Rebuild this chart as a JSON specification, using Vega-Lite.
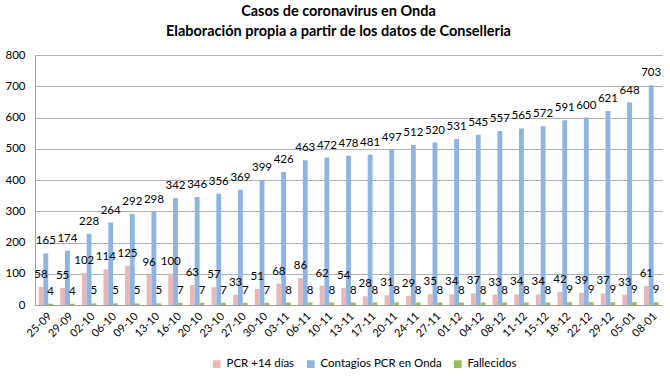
{
  "$schema": "https://vega.github.io/schema/vega-lite/v6.json",
  "width": 627,
  "height": 250,
  "autosize": {"type": "none"},
  "padding": {"left": 35, "top": 55, "right": 8, "bottom": 71},
  "background": "white",
  "config": {"font": "Lato", "view": {"stroke": null}},
  "title": {
    "text": ["Casos de coronavirus en Onda", "Elaboración propia a partir de los datos de Conselleria"],
    "fontSize": 14.5,
    "fontWeight": "bold",
    "lineHeight": 20,
    "anchor": "middle",
    "offset": 10,
    "dx": -10,
    "color": "#000000"
  },
  "datasets": {
    "casos": [
      {"fecha": "25-09", "pcr14": 58, "contagios": 165, "fallecidos": 4},
      {"fecha": "29-09", "pcr14": 55, "contagios": 174, "fallecidos": 4},
      {"fecha": "02-10", "pcr14": 102, "contagios": 228, "fallecidos": 5},
      {"fecha": "06-10", "pcr14": 114, "contagios": 264, "fallecidos": 5},
      {"fecha": "09-10", "pcr14": 125, "contagios": 292, "fallecidos": 5},
      {"fecha": "13-10", "pcr14": 96, "contagios": 298, "fallecidos": 5},
      {"fecha": "16-10", "pcr14": 100, "contagios": 342, "fallecidos": 7},
      {"fecha": "20-10", "pcr14": 63, "contagios": 346, "fallecidos": 7},
      {"fecha": "23-10", "pcr14": 57, "contagios": 356, "fallecidos": 7},
      {"fecha": "27-10", "pcr14": 33, "contagios": 369, "fallecidos": 7},
      {"fecha": "30-10", "pcr14": 51, "contagios": 399, "fallecidos": 7},
      {"fecha": "03-11", "pcr14": 68, "contagios": 426, "fallecidos": 8},
      {"fecha": "06-11", "pcr14": 86, "contagios": 463, "fallecidos": 8},
      {"fecha": "10-11", "pcr14": 62, "contagios": 472, "fallecidos": 8},
      {"fecha": "13-11", "pcr14": 54, "contagios": 478, "fallecidos": 8},
      {"fecha": "17-11", "pcr14": 28, "contagios": 481, "fallecidos": 8},
      {"fecha": "20-11", "pcr14": 31, "contagios": 497, "fallecidos": 8},
      {"fecha": "24-11", "pcr14": 29, "contagios": 512, "fallecidos": 8},
      {"fecha": "27-11", "pcr14": 35, "contagios": 520, "fallecidos": 8},
      {"fecha": "01-12", "pcr14": 34, "contagios": 531, "fallecidos": 8},
      {"fecha": "04-12", "pcr14": 37, "contagios": 545, "fallecidos": 8},
      {"fecha": "08-12", "pcr14": 33, "contagios": 557, "fallecidos": 8},
      {"fecha": "11-12", "pcr14": 34, "contagios": 565, "fallecidos": 8},
      {"fecha": "15-12", "pcr14": 34, "contagios": 572, "fallecidos": 8},
      {"fecha": "18-12", "pcr14": 42, "contagios": 591, "fallecidos": 9},
      {"fecha": "22-12", "pcr14": 39, "contagios": 600, "fallecidos": 9},
      {"fecha": "29-12", "pcr14": 37, "contagios": 621, "fallecidos": 9},
      {"fecha": "05-01", "pcr14": 33, "contagios": 648, "fallecidos": 9},
      {"fecha": "08-01", "pcr14": 61, "contagios": 703, "fallecidos": 9}
    ]
  },
  "data": {"name": "casos"},
  "transform": [
    {"fold": ["pcr14", "contagios", "fallecidos"], "as": ["clave", "valor"]},
    {"lookup": "clave", "from": {"data": {"values": [
      {"clave": "pcr14", "serie": "PCR +14 días"},
      {"clave": "contagios", "serie": "Contagios PCR en Onda"},
      {"clave": "fallecidos", "serie": "Fallecidos"}
    ]}, "key": "clave", "fields": ["serie"]}}
  ],
  "encoding": {
    "x": {
      "field": "fecha",
      "type": "nominal",
      "sort": null,
      "title": null,
      "scale": {"paddingInner": 0.33, "paddingOuter": 0.165},
      "axis": {
        "labelAngle": -45,
        "labelFontSize": 11,
        "labelColor": "#000000",
        "labelPadding": 5,
        "ticks": false,
        "domainColor": "#a0a0a0",
        "grid": false
      }
    },
    "xOffset": {
      "field": "serie",
      "type": "nominal",
      "sort": ["PCR +14 días", "Contagios PCR en Onda", "Fallecidos"],
      "scale": {"paddingInner": 0, "paddingOuter": 0}
    },
    "y": {
      "field": "valor",
      "type": "quantitative",
      "title": null,
      "scale": {"domain": [0, 800], "nice": false},
      "axis": {
        "values": [0, 100, 200, 300, 400, 500, 600, 700, 800],
        "labelFontSize": 11.5,
        "labelColor": "#000000",
        "labelPadding": 10,
        "ticks": false,
        "domainColor": "#a0a0a0",
        "gridColor": "#b0b0b0",
        "gridWidth": 1
      }
    }
  },
  "layer": [
    {
      "mark": {"type": "bar"},
      "encoding": {
        "color": {
          "field": "serie",
          "type": "nominal",
          "sort": ["PCR +14 días", "Contagios PCR en Onda", "Fallecidos"],
          "scale": {
            "domain": ["PCR +14 días", "Contagios PCR en Onda", "Fallecidos"],
            "range": ["#E6B9B8", "#8DB4E2", "#9BBB59"]
          },
          "legend": {
            "orient": "none",
            "legendX": 176,
            "legendY": 303,
            "direction": "horizontal",
            "title": null,
            "symbolType": "square",
            "symbolSize": 60,
            "symbolStrokeWidth": 0,
            "labelFontSize": 11.5,
            "labelColor": "#000000",
            "labelOffset": 4,
            "columnPadding": 10
          }
        }
      }
    },
    {
      "mark": {"type": "text", "fontSize": 11.5, "baseline": "middle", "dy": -12, "color": "#000000"},
      "encoding": {
        "text": {"field": "valor", "type": "quantitative"}
      }
    }
  ]
}
